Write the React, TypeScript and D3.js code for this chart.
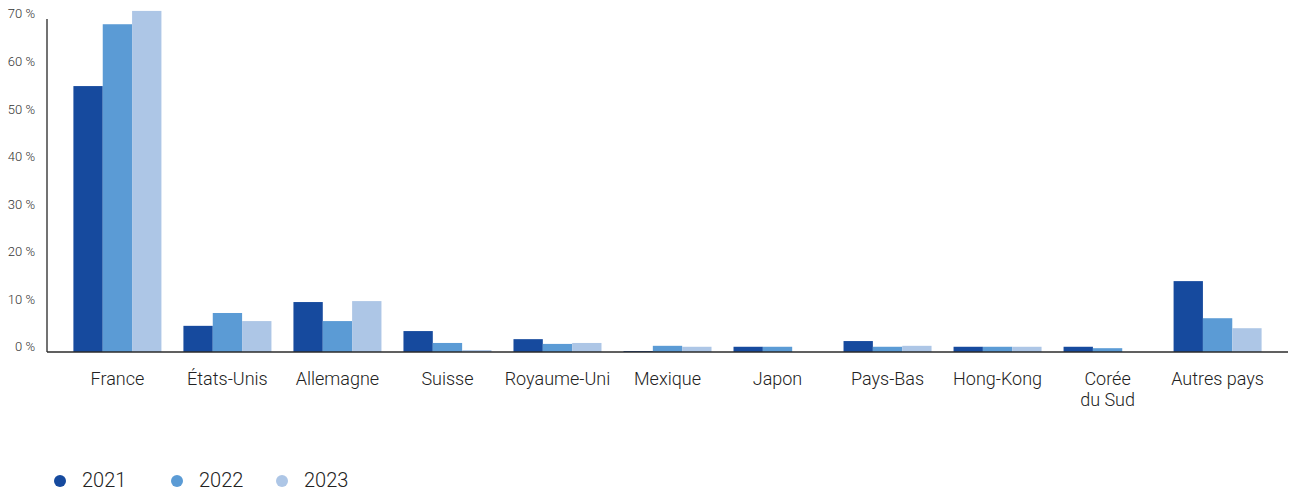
import React from "react";
import * as d3 from "d3";

const categories = [
  ["France"],
  ["États-Unis"],
  ["Allemagne"],
  ["Suisse"],
  ["Royaume-Uni"],
  ["Mexique"],
  ["Japon"],
  ["Pays-Bas"],
  ["Hong-Kong"],
  ["Corée", "du Sud"],
  ["Autres pays"],
];
const seriesNames = ["2021", "2022", "2023"];
const values2021 = [55.9, 5.5, 10.5, 4.4, 2.7, 0.2, 1.1, 2.3, 1.1, 1.1, 14.9];
const values2022 = [68.9, 8.2, 6.5, 1.9, 1.7, 1.3, 1.1, 1.1, 1.1, 0.8, 7.1];
const values2023 = [71.7, 6.5, 10.7, 0.4, 1.9, 1.1, 0, 1.3, 1.1, 0, 5.0];
const yTicks = [0, 10, 20, 30, 40, 50, 60, 70];
const colors = ["#164a9e", "#5b9bd5", "#adc6e6"];

const W = 1290;
const H = 494;
const FONT = "Roboto, 'Noto Sans', sans-serif";

export default function App() {
  const series = [values2021, values2022, values2023];
  const keys = categories.map((c) => c.join(" "));
  const x = d3
    .scaleBand<string>()
    .domain(keys)
    .range([47, 1288])
    .paddingInner(0.2)
    .paddingOuter(0.24);
  const xi = d3
    .scaleBand<string>()
    .domain(seriesNames)
    .range([0, x.bandwidth()]);
  const y = d3.scaleLinear().domain([0, 70]).range([352, 19]);

  return (
    <svg
      width={W}
      height={H}
      style={{ position: "absolute", left: 0, top: 0, background: "#fff" }}
    >
      {yTicks.map((t) => (
        <text
          key={t}
          x={35}
          y={y(t) - 4}
          textAnchor="end"
          dominantBaseline="middle"
          fontFamily={FONT}
          fontWeight={300}
          fontSize={13}
          fill="#333"
        >
          {t} %
        </text>
      ))}
      {keys.map((k, i) =>
        series.map((vals, s) => (
          <rect
            key={k + s}
            x={(x(k) as number) + (xi(seriesNames[s]) as number)}
            y={y(vals[i])}
            width={xi.bandwidth()}
            height={y(0) - y(vals[i])}
            fill={colors[s]}
          />
        ))
      )}
      <line x1={47} x2={47} y1={19} y2={352} stroke="#444" strokeWidth={1.5} />
      <line x1={47} x2={1288} y1={352} y2={352} stroke="#2b2b2b" strokeWidth={1.5} />
      {categories.map((lines, i) => (
        <text
          key={keys[i]}
          x={(x(keys[i]) as number) + x.bandwidth() / 2}
          y={380}
          textAnchor="middle"
          dominantBaseline="middle"
          fontFamily={FONT}
          fontWeight={300}
          fontSize={18}
          fill="#222"
        >
          {lines.map((l, j) => (
            <tspan key={j} x={(x(keys[i]) as number) + x.bandwidth() / 2} dy={j === 0 ? 0 : 21}>
              {l}
            </tspan>
          ))}
        </text>
      ))}
      {seriesNames.map((n, s) => {
        const lx = [60, 177, 282][s];
        return (
          <g key={n}>
            <circle cx={lx} cy={481} r={6} fill={colors[s]} />
            <text
              x={lx + 22}
              y={482}
              dominantBaseline="middle"
              fontFamily={FONT}
              fontWeight={300}
              fontSize={20}
              fill="#222"
            >
              {n}
            </text>
          </g>
        );
      })}
    </svg>
  );
}
